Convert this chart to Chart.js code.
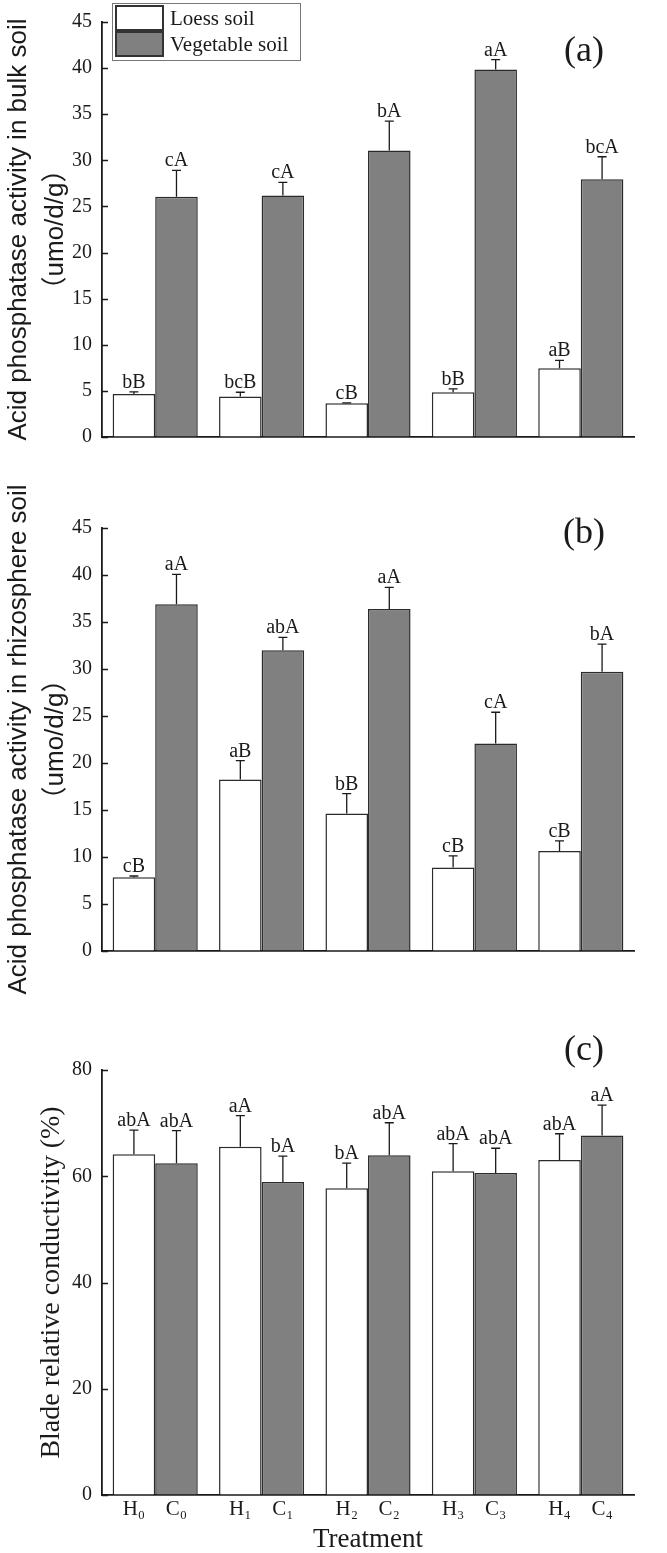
<!DOCTYPE html>
<html lang="en">
<head>
<meta charset="UTF-8">
<title>Acid phosphatase activity and blade relative conductivity</title>
<style>
  * { margin: 0; padding: 0; box-sizing: border-box; }
  body { background: #fff; width: 667px; height: 1553px; overflow: hidden; }
  #wrap { position: relative; width: 667px; height: 1553px; }
  canvas { position: absolute; left: 0; }
</style>
</head>
<body>
<div id="wrap">
  <canvas id="chartA" width="667" height="462" style="top:0;width:667px;height:462px"></canvas>
  <canvas id="chartB" width="667" height="540" style="top:462px;width:667px;height:540px"></canvas>
  <canvas id="chartC" width="667" height="551" style="top:1002px;width:667px;height:551px"></canvas>
</div>
<script src="https://cdn.jsdelivr.net/npm/chart.js@4/dist/chart.umd.min.js"></script>
<script>
const groups = ['0', '1', '2', '3', '4'];
const seriesNames = ['Loess soil', 'Vegetable soil'];
const hLabels = ['H\u2080', 'H\u2081', 'H\u2082', 'H\u2083', 'H\u2084'];
const cLabels = ['C\u2080', 'C\u2081', 'C\u2082', 'C\u2083', 'C\u2084'];

// (a) bulk soil
const loessBulk     = [4.65, 4.40, 3.65, 4.86, 7.45];
const loessBulkErr  = [0.25, 0.45, 0.05, 0.35, 0.85];
const vegBulk       = [26.06, 26.20, 31.06, 39.86, 27.94];
const vegBulkErr    = [2.85, 1.40, 3.20, 1.05, 2.45];
const loessBulkSig  = ['bB', 'bcB', 'cB', 'bB', 'aB'];
const vegBulkSig    = ['cA', 'cA', 'bA', 'aA', 'bcA'];

// (b) rhizosphere soil
const loessRhizo    = [7.84, 18.24, 14.62, 8.87, 10.65];
const loessRhizoErr = [0.14, 2.02, 2.13, 1.24, 1.06];
const vegRhizo      = [36.90, 32.00, 36.37, 22.07, 29.70];
const vegRhizoErr   = [3.16, 1.36, 2.31, 3.33, 2.94];
const loessRhizoSig = ['cB', 'aB', 'bB', 'cB', 'cB'];
const vegRhizoSig   = ['aA', 'abA', 'aA', 'cA', 'bA'];

// (c) blade relative conductivity
const loessBlade    = [64.13, 65.53, 57.73, 60.93, 63.07];
const loessBladeErr = [4.57, 5.87, 4.74, 5.20, 4.93];
const vegBlade      = [62.47, 58.93, 63.93, 60.60, 67.67];
const vegBladeErr   = [6.13, 4.87, 6.14, 4.67, 5.73];
const loessBladeSig = ['abA', 'aA', 'bA', 'abA', 'abA'];
const vegBladeSig   = ['abA', 'bA', 'abA', 'abA', 'aA'];

const SERIF = '"Liberation Serif", "Times New Roman", serif';
const SANS  = '"Liberation Sans", Arial, "Noto Sans CJK SC", sans-serif';
const INK   = '#1a1a1a';

// error bars, significance letters, inward ticks, panel tag, legend box
const extras = {
  id: 'extras',
  afterDatasetsDraw(chart, args, opts) {
    const ctx = chart.ctx;
    const y = chart.scales.y;
    ctx.save();
    chart.data.datasets.forEach((ds, i) => {
      chart.getDatasetMeta(i).data.forEach((bar, j) => {
        const top = y.getPixelForValue(ds.data[j] + opts.errors[i][j]);
        ctx.strokeStyle = INK;
        ctx.lineWidth = 1.3;
        ctx.beginPath();
        ctx.moveTo(bar.x, bar.y);
        ctx.lineTo(bar.x, top);
        ctx.moveTo(bar.x - 4.5, top);
        ctx.lineTo(bar.x + 4.5, top);
        ctx.stroke();
        ctx.fillStyle = INK;
        ctx.font = '20px ' + SERIF;
        ctx.textAlign = 'center';
        ctx.textBaseline = 'alphabetic';
        ctx.fillText(opts.letters[i][j], bar.x, top - 4);
      });
    });
    ctx.restore();
  },
  afterDraw(chart, args, opts) {
    const ctx = chart.ctx;
    const y = chart.scales.y;
    const area = chart.chartArea;
    ctx.save();
    ctx.strokeStyle = INK;
    ctx.lineWidth = 1.5;
    ctx.beginPath();
    y.ticks.forEach(t => {
      const py = Math.round(y.getPixelForValue(t.value)) + 0.5;
      ctx.moveTo(area.left, py);
      ctx.lineTo(area.left + 6, py);
    });
    ctx.stroke();

    ctx.fillStyle = INK;
    ctx.font = '36px ' + SERIF;
    ctx.textAlign = 'center';
    ctx.textBaseline = 'middle';
    ctx.fillText(opts.tag, area.right - 50, area.top + opts.tagDy);

    if (opts.legend) {
      ctx.strokeStyle = '#777';
      ctx.lineWidth = 1;
      ctx.strokeRect(112.5, 3.5, 188, 57);
      ctx.font = '21px ' + SERIF;
      ctx.textAlign = 'left';
      chart.data.datasets.forEach((ds, i) => {
        const ry = 6 + i * 26;
        ctx.fillStyle = ds.backgroundColor;
        ctx.fillRect(116, ry, 47, 24);
        ctx.strokeStyle = '#333';
        ctx.lineWidth = 2;
        ctx.strokeRect(116, ry, 47, 24);
        ctx.fillStyle = INK;
        ctx.fillText(ds.label, 170, ry + 13);
      });
    }
    ctx.restore();
  }
};

function makePanel(id, p) {
  const scales = {
    x: {
      type: 'category',
      offset: true,
      grid: { drawOnChartArea: false, drawTicks: false },
      border: { color: INK, width: 1.8 },
      ticks: { display: false },
      afterFit: s => { s.height = 0; }
    },
    y: {
      min: 0,
      max: p.max,
      grid: { drawOnChartArea: false, drawTicks: false },
      border: { color: INK, width: 1.8 },
      ticks: { stepSize: p.step, padding: 10, color: INK, font: { family: SERIF, size: 20 } },
      title: {
        display: true,
        text: p.title,
        color: INK,
        font: p.titleFont,
        padding: { top: p.titlePad, bottom: 0 }
      },
      afterFit: s => { s.width = 102; }
    }
  };

  if (p.treatment) {
    // one label under each bar: H under the loess bar, C under the vegetable bar
    scales.x2 = {
      type: 'linear',
      position: 'bottom',
      offset: false,
      min: -0.5,
      max: 4.5,
      grid: { display: false, drawTicks: false, offset: false },
      border: { display: false },
      afterBuildTicks: s => {
        s.ticks = groups.flatMap((g, i) => [{ value: i - 0.2 }, { value: i + 0.2 }]);
      },
      ticks: {
        autoSkip: false,
        maxRotation: 0,
        padding: 2,
        color: INK,
        font: { family: SERIF, size: 21 },
        callback: (v, idx) => (idx % 2 === 0 ? hLabels : cLabels)[Math.floor(idx / 2)]
      },
      title: {
        display: true,
        text: 'Treatment',
        color: INK,
        font: { family: SERIF, size: 27, lineHeight: 1 },
        padding: { top: 0, bottom: 0 }
      },
      afterFit: s => { s.height = 58; }
    };
  }

  return new Chart(document.getElementById(id), {
    type: 'bar',
    data: {
      labels: groups,
      datasets: [
        {
          label: seriesNames[0],
          data: p.loess,
          backgroundColor: '#ffffff',
          borderColor: '#2b2b2b',
          borderWidth: 1.5,
          barPercentage: 1,
          categoryPercentage: 0.8
        },
        {
          label: seriesNames[1],
          data: p.veg,
          backgroundColor: '#808080',
          borderColor: '#2b2b2b',
          borderWidth: 1.5,
          barPercentage: 1,
          categoryPercentage: 0.8
        }
      ]
    },
    options: {
      responsive: false,
      animation: false,
      devicePixelRatio: 1,
      layout: { padding: { left: 0, right: 33, top: p.padTop, bottom: p.padBottom } },
      plugins: {
        legend: { display: false },
        tooltip: { enabled: false },
        extras: {
          errors: p.errors,
          letters: p.letters,
          tag: p.tag,
          tagDy: p.tagDy,
          legend: !!p.legend
        }
      },
      scales: scales
    },
    plugins: [extras]
  });
}

const sansTitle = { family: SANS, size: 26, lineHeight: '37px' };

makePanel('chartA', {
  loess: loessBulk, veg: vegBulk,
  errors: [loessBulkErr, vegBulkErr],
  letters: [loessBulkSig, vegBulkSig],
  max: 45, step: 5,
  title: ['Acid phosphatase activity in bulk soil', '\uFF08umo/d/g\uFF09'],
  titleFont: sansTitle, titlePad: 0,
  padTop: 14, padBottom: 25,
  tag: '(a)', tagDy: 30,
  legend: true
});

makePanel('chartB', {
  loess: loessRhizo, veg: vegRhizo,
  errors: [loessRhizoErr, vegRhizoErr],
  letters: [loessRhizoSig, vegRhizoSig],
  max: 45, step: 5,
  title: ['Acid phosphatase activity in rhizosphere soil', '\uFF08umo/d/g\uFF09'],
  titleFont: sansTitle, titlePad: 0,
  padTop: 66, padBottom: 51,
  tag: '(b)', tagDy: 6
});

makePanel('chartC', {
  loess: loessBlade, veg: vegBlade,
  errors: [loessBladeErr, vegBladeErr],
  letters: [loessBladeSig, vegBladeSig],
  max: 80, step: 20,
  title: 'Blade relative conductivity (%)',
  titleFont: { family: SERIF, size: 28, lineHeight: 1.2 },
  titlePad: 35,
  padTop: 68, padBottom: 0,
  tag: '(c)', tagDy: -19,
  treatment: true
});
</script>
</body>
</html>
